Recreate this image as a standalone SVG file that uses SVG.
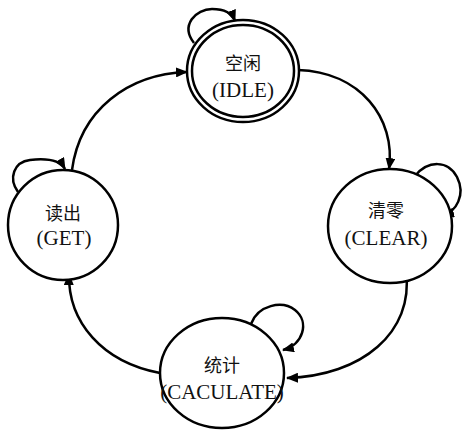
<svg xmlns="http://www.w3.org/2000/svg" width="465" height="433" viewBox="0 0 465 433">
  <defs>
    <marker id="arrow" viewBox="0 0 12 10" refX="11" refY="5" markerWidth="12" markerHeight="10" markerUnits="userSpaceOnUse" orient="auto">
      <path d="M0,0 L12,5 L0,10 Z" fill="#000"/>
    </marker>
    <style>
      .state { fill: #fff; stroke: #000; stroke-width: 2.5; }
      .edge { fill: none; stroke: #000; stroke-width: 2.5; marker-end: url(#arrow); }
      .cn { font-family: "Noto Sans CJK SC", sans-serif; font-size: 18px; text-anchor: middle; fill: #111; }
      .en { font-family: "Liberation Serif", serif; font-size: 21px; text-anchor: middle; fill: #111; }
    </style>
  </defs>
  <rect width="465" height="433" fill="#fff"/>

  <!-- transitions and self loops -->
  <g id="connectors">
    <path class="edge" d="M72,170 C80,110 128,74 187,72"/>
    <path class="edge" d="M298,70 C360,72 396,118 389,169"/>
    <path class="edge" d="M406,272 C414,332 362,376 287,378"/>
    <path class="edge" d="M160,373 C102,362 68,322 69,274"/>
    <path class="edge" d="M194,43 C180,25 196,9 212,9 C224,9 232,13 235,21"/>
    <path class="edge" d="M415,176 C428,160 448,160 457,177 C466,195 456,212 443,215"/>
    <path class="edge" d="M251,324 C258,305 282,300 295,310 C310,322 303,345 283,350"/>
    <path class="edge" d="M18,192 C8,178 14,162 30,160 C48,158 60,160 65,169"/>
  </g>

  <g id="idle">
    <ellipse class="state" cx="243" cy="71" rx="56" ry="51"/>
    <ellipse class="state" cx="243" cy="71" rx="51" ry="46"/>
    <text class="cn" x="243" y="70">空闲</text>
    <text class="en" x="243" y="97">(IDLE)</text>
  </g>

  <g id="clear">
    <ellipse class="state" cx="390" cy="226" rx="62" ry="57"/>
    <text class="cn" x="386" y="217">清零</text>
    <text class="en" x="386" y="245">(CLEAR)</text>
  </g>

  <g id="calculate">
    <ellipse class="state" cx="222" cy="373" rx="62" ry="55"/>
    <text class="cn" x="222" y="372">统计</text>
    <text class="en" x="222" y="399">(CACULATE)</text>
  </g>

  <g id="get">
    <ellipse class="state" cx="63" cy="225" rx="55" ry="55"/>
    <text class="cn" x="63" y="220">读出</text>
    <text class="en" x="64" y="245">(GET)</text>
  </g>
</svg>
